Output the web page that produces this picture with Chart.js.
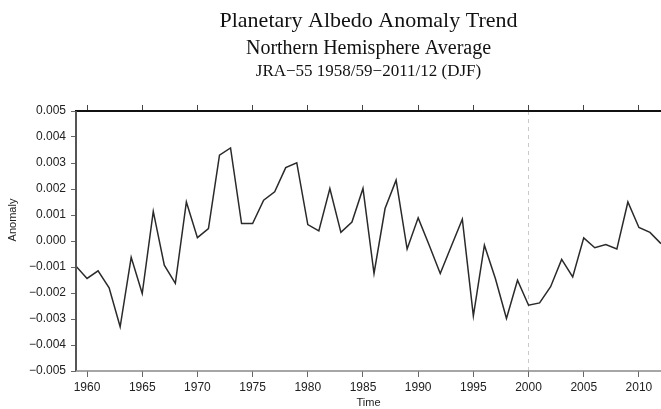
<!DOCTYPE html>
<html>
<head>
<meta charset="utf-8">
<title>Planetary Albedo Anomaly Trend</title>
<script src="https://cdn.jsdelivr.net/npm/chart.js@4.4.3/dist/chart.umd.min.js"></script>
<style>
  html,body{margin:0;padding:0;background:#fff;}
  #wrap{width:661px;height:409px;position:relative;}
</style>
</head>
<body>
<div id="wrap"><canvas id="c"></canvas></div>
<script>
// 데이터 (DJF, 1958/59 -> 1959 ...)
const years = [1959,1960,1961,1962,1963,1964,1965,1966,1967,1968,1969,1970,1971,1972,1973,1974,1975,1976,1977,1978,1979,1980,1981,1982,1983,1984,1985,1986,1987,1988,1989,1990,1991,1992,1993,1994,1995,1996,1997,1998,1999,2000,2001,2002,2003,2004,2005,2006,2007,2008,2009,2010,2011,2012];
const anomaly = [-0.00097,-0.00144,-0.00115,-0.00180,-0.00330,-0.00063,-0.00202,0.00114,-0.00093,-0.00163,0.00150,0.00013,0.00048,0.00330,
  0.00358,0.00067,0.00067,0.00157,0.00189,0.00282,0.00301,0.00063,0.00039,0.00202,0.00033,0.00073,
  0.00202,-0.00125,0.00125,0.00234,-0.00031,0.00089,-0.00016,-0.00125,-0.00020,0.00084,-0.00288,-0.00016,-0.00145,
  -0.00298,-0.00151,-0.00247,-0.00238,-0.00176,-0.00071,-0.00138,0.00012,-0.00026,-0.00014,-0.00031,0.00150,0.00052,0.00033,-0.00010];
const xTicks = [1960,1965,1970,1975,1980,1985,1990,1995,2000,2005,2010];
const yTicks = [-0.005,-0.004,-0.003,-0.002,-0.001,0,0.001,0.002,0.003,0.004,0.005];
const titleLines = ['Planetary Albedo Anomaly Trend','Northern Hemisphere Average','JRA\u221255 1958/59\u22122011/12 (DJF)'];

const SANS = '"Liberation Sans", Arial, sans-serif';
const SERIF = '"Liberation Serif", "Times New Roman", serif';

const fmtY = v => (v < 0 ? '\u2212' : '') + Math.abs(v).toFixed(3);

// 제목, 축 이름, 테두리, 2000년 점선
const decor = {
  id:'decor',
  beforeDatasetsDraw(chart){
    const {ctx, chartArea:a, scales:{x}} = chart;
    const px = x.getPixelForValue(2000);
    ctx.save();
    ctx.strokeStyle = '#c8c8c8';
    ctx.lineWidth = 1;
    ctx.setLineDash([4,4]);
    ctx.beginPath(); ctx.moveTo(px, a.top); ctx.lineTo(px, a.bottom); ctx.stroke();
    ctx.restore();
  },
  afterDraw(chart){
    const {ctx, chartArea:a} = chart;
    const cx = (a.left + a.right)/2;
    ctx.save();
    // 테두리
    ctx.lineCap = 'butt';
    ctx.strokeStyle = '#111'; ctx.lineWidth = 2;
    ctx.beginPath(); ctx.moveTo(a.left-1, a.top); ctx.lineTo(a.right, a.top); ctx.stroke();
    ctx.strokeStyle = '#555'; ctx.lineWidth = 2;
    ctx.beginPath(); ctx.moveTo(a.left, a.top); ctx.lineTo(a.left, a.bottom); ctx.stroke();
    ctx.strokeStyle = '#888'; ctx.lineWidth = 1.5;
    ctx.beginPath(); ctx.moveTo(a.left, a.bottom); ctx.lineTo(a.right, a.bottom); ctx.stroke();

    // 제목
    ctx.fillStyle = '#111';
    ctx.textAlign = 'center';
    ctx.textBaseline = 'alphabetic';
    ctx.font = '22px ' + SERIF; ctx.fillText(titleLines[0], cx, 27);
    ctx.font = '20px ' + SERIF; ctx.fillText(titleLines[1], cx, 54);
    ctx.font = '17px ' + SERIF; ctx.fillText(titleLines[2], cx, 76);

    // 축 이름
    ctx.fillStyle = '#222';
    ctx.font = '11px ' + SANS;
    ctx.textBaseline = 'middle';
    ctx.fillText('Time', cx, 403);
    ctx.translate(13, 220);
    ctx.rotate(-Math.PI/2);
    ctx.fillText('Anomaly', 0, 0);
    ctx.restore();
  }
};

new Chart(document.getElementById('c'), {
  type:'line',
  data:{
    datasets:[{
      data: years.map((y,i)=>({x:y, y:anomaly[i]})),
      borderColor:'#2a2a2a',
      borderWidth:1.5,
      pointRadius:0,
      tension:0,
      fill:false
    }]
  },
  options:{
    responsive:true,
    maintainAspectRatio:false,
    animation:false,
    layout:{ padding:{ top:105, right:0, bottom:0, left:0 } },
    plugins:{ legend:{display:false}, tooltip:{enabled:false}, title:{display:false} },
    scales:{
      x:{
        type:'linear', position:'bottom', min:1959, max:2012,
        afterBuildTicks: s => { s.ticks = xTicks.map(v=>({value:v})); },
        afterFit: s => { s.height = 38; },
        border:{display:false},
        grid:{ drawOnChartArea:false, drawTicks:true, tickLength:6, color:'#666', lineWidth:1 },
        ticks:{ color:'#222', font:{family:SANS, size:12}, padding:3, maxRotation:0, autoSkip:false, callback: v => String(v) }
      },
      x2:{
        type:'linear', position:'top', min:1959, max:2012,
        afterBuildTicks: s => { s.ticks = xTicks.map(v=>({value:v})); },
        border:{display:false},
        grid:{ drawOnChartArea:false, drawTicks:true, tickLength:6, color:'#444', lineWidth:1 },
        ticks:{ display:false }
      },
      y:{
        min:-0.005, max:0.005,
        afterBuildTicks: s => { s.ticks = yTicks.map(v=>({value:v})); },
        afterFit: s => { s.width = 76; },
        border:{display:false},
        grid:{ drawOnChartArea:false, drawTicks:true, tickLength:5, color:'#666', lineWidth:1 },
        ticks:{ color:'#222', font:{family:SANS, size:12}, padding:5, callback: v => fmtY(v) }
      }
    }
  },
  plugins:[decor]
});
</script>
</body>
</html>
